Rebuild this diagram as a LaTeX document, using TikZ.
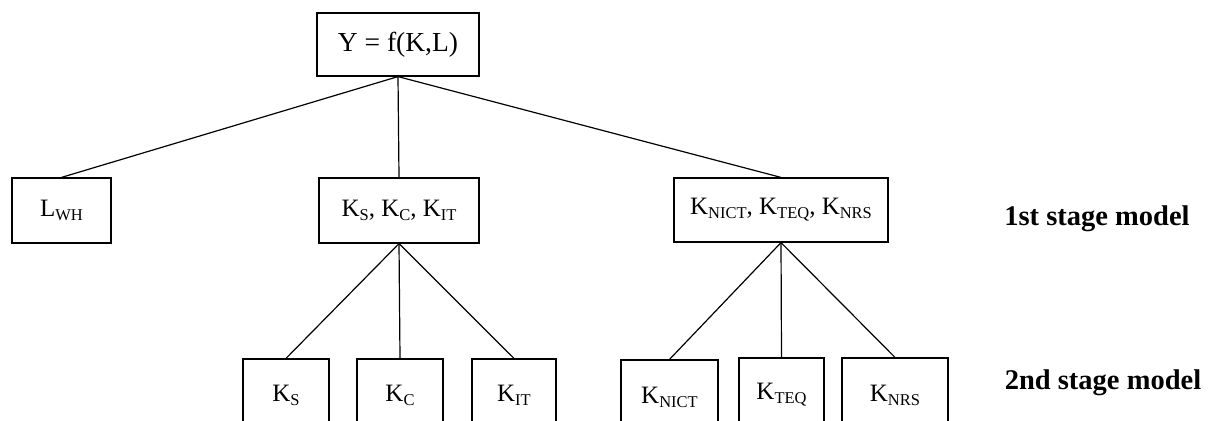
\documentclass[tikz,border=0pt]{standalone}
\usepackage{fontspec}
\setmainfont{Liberation Serif}
\newcommand{\sbx}[1]{\raisebox{-0.35ex}{\fontsize{16.5}{18}\selectfont #1}}
\begin{document}
\begin{tikzpicture}[x=1pt,y=-1pt,
  box/.style={draw,line width=1.2pt,inner sep=0pt,font=\fontsize{25}{28}\selectfont},
  conn/.style={line width=1.2pt},
  lab/.style={font=\fontsize{28.5}{32}\selectfont\bfseries}]
\clip (0,0) rectangle (1209,420);
\fill[white] (0,0) rectangle (1209,420);
\node[box,minimum width=162pt,minimum height=63pt,font=\fontsize{27.5}{30}\selectfont] (top) at (398,44.5) {Y = f(K,L)};
\node[box,minimum width=99pt,minimum height=65pt] (lwh) at (61.5,210.5) {L\sbx{WH}};
\node[box,minimum width=160pt,minimum height=65pt] (mid) at (399,210.5) {K\sbx{S}, K\sbx{C}, K\sbx{IT}};
\node[box,minimum width=214pt,minimum height=64pt] (rgt) at (781,210) {K\sbx{NICT}, K\sbx{TEQ}, K\sbx{NRS}};
\node[box,minimum width=86pt,minimum height=72pt] (ks) at (286,395) {K\sbx{S}};
\node[box,minimum width=86pt,minimum height=72pt] (kc) at (400,395) {K\sbx{C}};
\node[box,minimum width=84pt,minimum height=72pt] (kit) at (514,395) {K\sbx{IT}};
\node[box,minimum width=97pt,minimum height=74pt] (knict) at (669.5,397) {K\sbx{NICT}};
\node[box,minimum width=85pt,minimum height=74pt] (kteq) at (781.5,395) {K\sbx{TEQ}};
\node[box,minimum width=106pt,minimum height=74pt] (knrs) at (895,395) {K\sbx{NRS}};
\node[lab] (l1) at (1097,219) {1st stage model};
\node[lab] (l2) at (1103,383) {2nd stage model};
\draw[conn] (top.south) -- (lwh.north);
\draw[conn] (top.south) -- (mid.north);
\draw[conn] (top.south) -- (rgt.north);
\draw[conn] (mid.south) -- (ks.north);
\draw[conn] (mid.south) -- (kc.north);
\draw[conn] (mid.south) -- (kit.north);
\draw[conn] (rgt.south) -- (knict.north);
\draw[conn] (rgt.south) -- (kteq.north);
\draw[conn] (rgt.south) -- (knrs.north);
\end{tikzpicture}
\end{document}
